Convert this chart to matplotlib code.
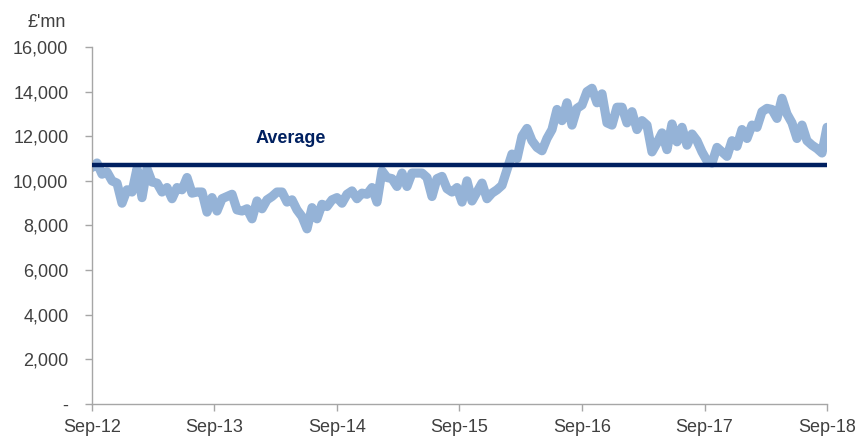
import matplotlib
matplotlib.use('Agg')
import matplotlib.pyplot as plt
import matplotlib.dates as mdates
import pandas as pd

plt.rcParams['font.family'] = ['Liberation Sans', 'DejaVu Sans']

# 两周一个点，从 2012年9月 到 2018年9月
start_date = '2012-09-28'
end_date = '2018-09-28'
values = [
    10600, 10800, 10300, 10400, 10000, 9900, 9000, 9600, 9500, 10550,
    9250, 10550, 9950, 9900, 9500, 9700, 9200, 9700, 9600, 10150,
    9450, 9500, 9500, 8600, 9250, 8650, 9200, 9300, 9400, 8700,
    8650, 8750, 8300, 9100, 8750, 9150, 9300, 9500, 9500, 9050,
    9150, 8700, 8400, 7850, 8800, 8300, 8950, 8850, 9150, 9250,
    9000, 9400, 9550, 9200, 9450, 9400, 9700, 9050, 10450, 10150,
    10100, 9750, 10350, 9750, 10350, 10350, 10350, 10150, 9300, 10100,
    10200, 9650, 9500, 9700, 9050, 10000, 9100, 9500, 9900, 9200,
    9450, 9600, 9800, 10500, 11200, 11000, 12000, 12350, 11800, 11500,
    11350, 11900, 12300, 13200, 12700, 13500, 12500, 13250, 13400, 14000,
    14150, 13500, 13900, 12600, 12500, 13300, 13300, 12600, 13100, 12300,
    12700, 12500, 11300, 11700, 12150, 11400, 12550, 11750, 12400, 11600,
    12100, 11800, 11300, 10900, 10800, 11500, 11300, 11100, 11800, 11550,
    12300, 11900, 12500, 12400, 13100, 13250, 13200, 12800, 13700, 13000,
    12600, 11900, 12500, 11800, 11600, 11450, 11250, 12400,
]
average = 10700
tick_dates = ['2012-09-28', '2013-09-28', '2014-09-28', '2015-09-28',
              '2016-09-28', '2017-09-28', '2018-09-28']
y_ticks = [0, 2000, 4000, 6000, 8000, 10000, 12000, 14000, 16000]

dates = pd.date_range(start_date, end_date, periods=len(values))

fig = plt.figure(figsize=(8.6, 4.36), dpi=100)
ax = fig.add_axes([0.107, 0.0734, 0.8546, 0.8188])

ax.plot(dates, values, color='#95B3D7', linewidth=6.6,
        solid_capstyle='round', solid_joinstyle='round', zorder=2)
ax.plot([dates[0], dates[-1]], [average, average], color='#002060',
        linewidth=3.2, solid_capstyle='round', zorder=3)

ax.set_xlim(dates[0], dates[-1])
ax.set_ylim(0, 16000)
ax.set_yticks(y_ticks)
ax.set_yticklabels(['-' if v == 0 else f'{v:,}' for v in y_ticks])
ax.set_xticks(pd.to_datetime(tick_dates))
ax.xaxis.set_major_formatter(mdates.DateFormatter('%b-%y'))

for side in ['top', 'right']:
    ax.spines[side].set_visible(False)
for side in ['left', 'bottom']:
    ax.spines[side].set_color('#A6A6A6')
    ax.spines[side].set_linewidth(1)
ax.tick_params(axis='both', colors='#A6A6A6', length=5, width=1,
               labelsize=13, labelcolor='#404040')
ax.tick_params(axis='x', pad=6)
ax.tick_params(axis='y', pad=12)

ax.text(0.271, 11920, 'Average', transform=ax.get_yaxis_transform(),
        ha='center', va='center', fontsize=13, fontweight='bold',
        color='#002060')
fig.text(0.032, 0.948, "£'mn", ha='left', va='center', fontsize=13,
         color='#404040')

fig.savefig('out.png', dpi=100)
